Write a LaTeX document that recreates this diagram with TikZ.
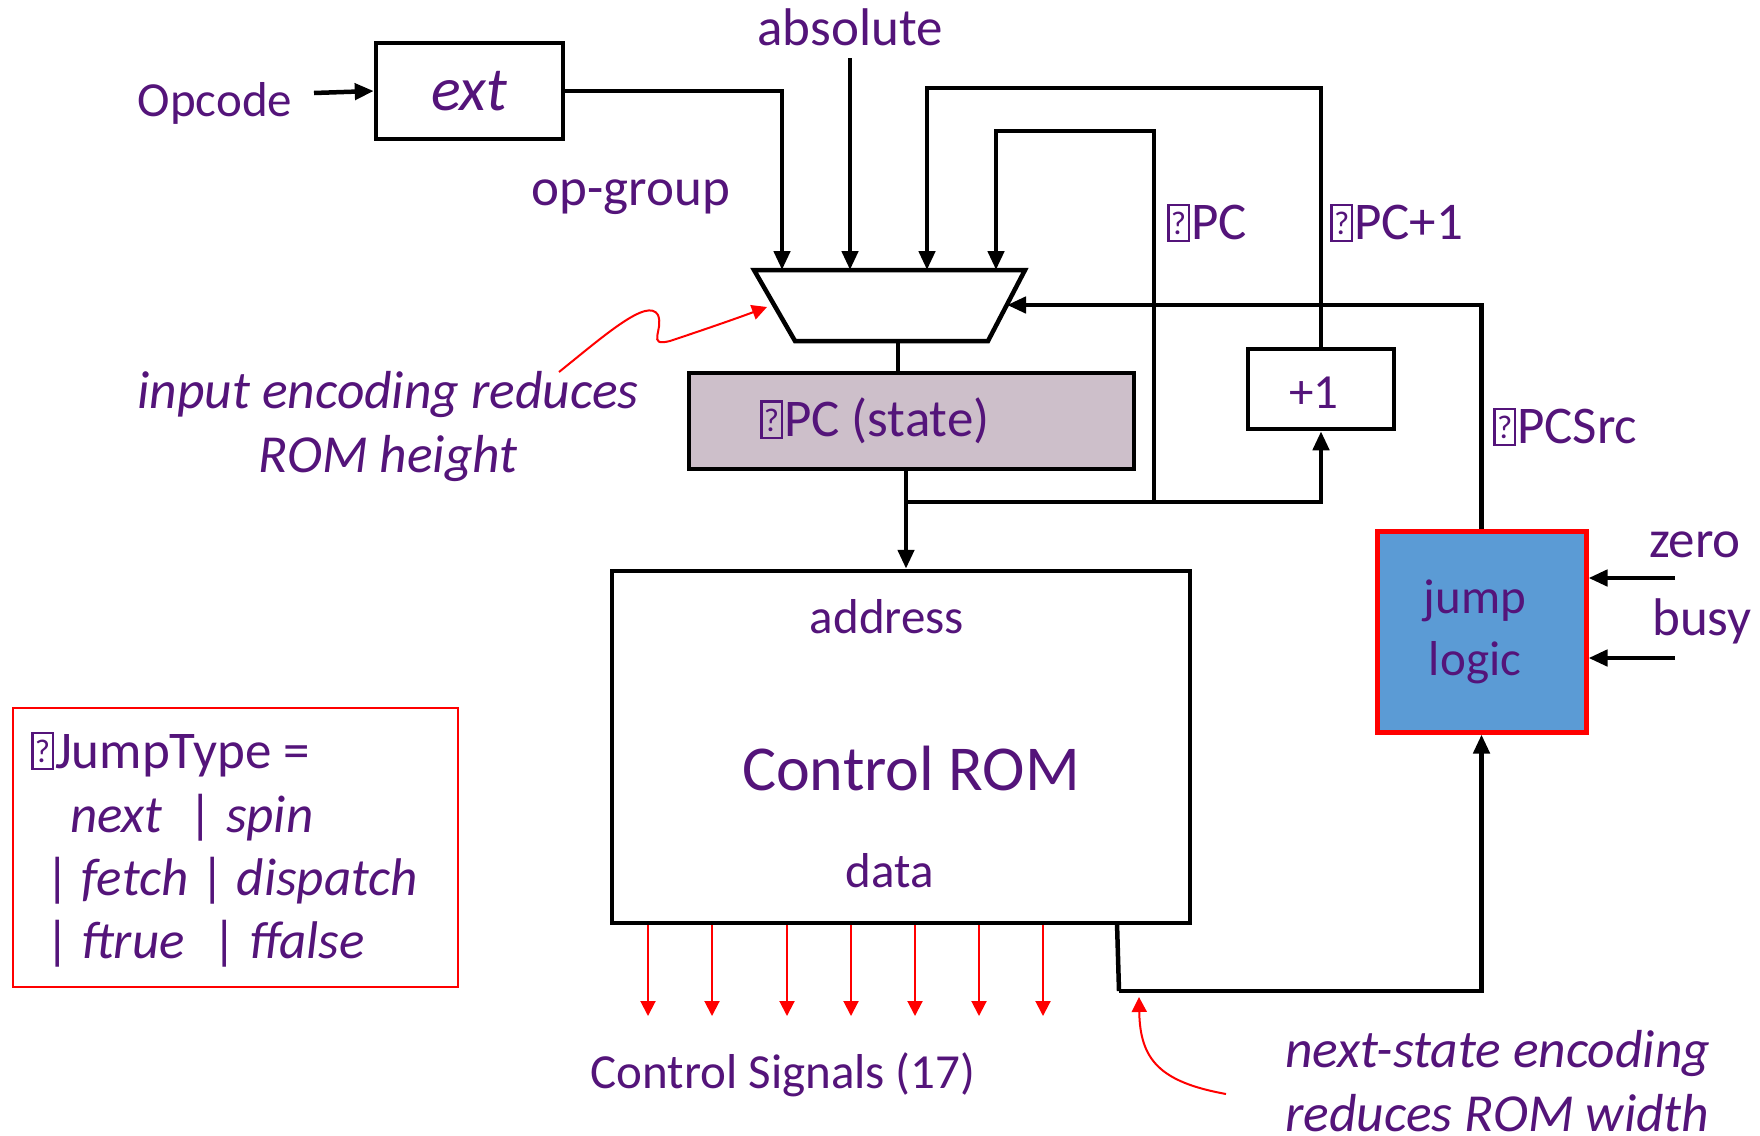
\documentclass[tikz,border=0pt]{standalone}
\usepackage{fontspec}
\setmainfont{Carlito}
\usepackage{graphicx}
\usetikzlibrary{arrows.meta}
\definecolor{txt}{RGB}{84,20,122}
\definecolor{mauve}{RGB}{205,191,202}
\definecolor{jblue}{RGB}{91,155,213}
\newcommand\tofu{{\setlength{\fboxsep}{0pt}\setlength{\fboxrule}{0.045em}\fbox{\makebox[0.34em]{\rule{0pt}{0.64em}\raisebox{0.1em}{\scalebox{0.62}{?}}}}}\kern0.02em}
\tikzset{
  lbl/.style={font=\fontsize{49}{62}\selectfont, text=txt, inner sep=0pt},
  big/.style={font=\fontsize{53}{62}\selectfont, text=txt, inner sep=0pt},
  note/.style={font=\fontsize{53.5}{64}\selectfont\itshape, text=txt, inner sep=0pt},
  blk/.style={draw=black, line width=4.5pt},
  arr/.style={line width=4.5pt, -{Triangle[length=19pt,width=16pt]}},
  wire/.style={line width=4.5pt},
  rarr/.style={draw=red, line width=2pt, -{Triangle[length=15pt,width=15pt]}},
}
\begin{document}
\begin{tikzpicture}[x=1pt,y=-1pt]
\fill[white] (0,0) rectangle (1760,1135);
\useasboundingbox (0,0) rectangle (1760,1135);

% ext block and opcode
\node[blk, minimum width=187pt, minimum height=96pt, inner sep=0pt, text=txt, font=\fontsize{62}{70}\selectfont\itshape] (ext) at (469.5,91) {ext};
\node[lbl] (opcode) at (215,103) {Opcode};
\coordinate (opA) at (314,93);
\draw[arr] (opA) -- (ext.west);
\node[big] (opgroup) at (631,197) {op-group};

% mux
\draw[blk, line join=miter] (754,270) -- (1025,270) -- (988,341) -- (795,341) -- cycle;
\coordinate (in1) at (782,270);
\coordinate (in2) at (850,270);
\coordinate (in3) at (927,270);
\coordinate (in4) at (996,270);
\coordinate (muxR) at (1007,305);
\coordinate (muxB) at (898,343);

\node[big] (absolute) at (850,27) {absolute};
\coordinate (absA) at (850,58);
\draw[arr] (absA) -- (in2);
\draw[arr] (ext.east) -| (in1);

% uPC state
\node[blk, fill=mauve, minimum width=445pt, minimum height=96pt] (pc) at (911.5,421) {};
\node[big, anchor=west] (pctxt) at (760,421) {\tofu PC (state)};
\draw[wire] (muxB) -- (pc.north -| muxB);

% +1
\node[blk, minimum width=146pt, minimum height=80pt] (plus) at (1321,389) {};
\node[lbl] (plustxt) at (1314,393) {+1};

% Control ROM
\node[blk, minimum width=578pt, minimum height=352pt] (rom) at (901,747) {};
\node[lbl] (addr) at (887,617) {address};
\node[lbl, font=\fontsize{64}{70}\selectfont] (romtxt) at (911,769) {Control ROM};
\node[lbl] (data) at (890,871) {data};

% jump logic
\node[draw=red, line width=5pt, fill=jblue, minimum width=209pt, minimum height=201pt] (jump) at (1481.5,631.5) {};
\node[lbl, align=center] (jumptxt) at (1475,632) {jump\\logic};

% wiring
\coordinate (jA) at (906,502);
\coordinate (jB) at (1154,502);
\coordinate (loopA) at (927,88);
\coordinate (loopB) at (996,131);
\draw[arr] (pc.south -| jA) -- (rom.north -| jA);
\draw[arr] (jA) -| (plus.south);
\draw[arr] (jB) |- (loopB) -- (in4);
\draw[arr] (plus.north) |- (loopA) -- (in3);
\draw[arr] (jump.north) |- (muxR);

\node[big, anchor=west] (lpc) at (1167,223) {\tofu PC};
\node[big, anchor=west] (lpc1) at (1330,223) {\tofu PC+1};
\node[big, anchor=west] (lsrc) at (1493,427) {\tofu PCSrc};

% zero / busy
\coordinate (zA) at (1675,578);
\coordinate (bA) at (1675,658);
\draw[arr] (zA) -- (zA -| jump.east);
\draw[arr] (bA) -- (bA -| jump.east);
\node[big] (zero) at (1695,545) {zero};
\node[big] (busy) at (1702,621) {busy};

% next state path
\coordinate (nsA) at (1117,923);
\coordinate (nsB) at (1119,991);
\draw[wire] (nsA) -- (nsB);
\draw[arr] (nsB) -| (jump.south);

% control signals
\foreach \x in {648,712,787,851,915,979,1043}
  \draw[rarr] (\x,925) -- (\x,1016);
\node[lbl] (csig) at (783,1075) {Control Signals (17)};

% notes
\node[note, align=center] (inenc) at (388,427) {input encoding reduces\\ROM height};
\coordinate (ieA) at (559,372);
\coordinate (ieB) at (767,307);
\draw[rarr] (ieA) .. controls (605,335) and (648,297) .. (658,315)
  .. controls (664,330) and (646,347) .. (670,341)
  .. controls (700,331) and (735,319) .. (ieB);

\node[note, align=left, anchor=west] (nsenc) at (1285,1081) {next-state encoding\\reduces ROM width};
\coordinate (nsC) at (1226,1094);
\coordinate (nsD) at (1139,997);
\draw[rarr] (nsC) .. controls (1160,1082) and (1140,1060) .. (nsD);

% jump type box
\node[draw=red, line width=2.5pt, minimum width=445pt, minimum height=279pt] (jt) at (235.5,847.5) {};
\node[big, anchor=base west] (jt1) at (31,768) {\tofu JumpType =};
\node[big, anchor=base west] (jt2) at (70,832) {\textit{next}\hspace{26pt}|\hspace{13pt}\textit{spin}};
\node[big, anchor=base west] (jt3) at (45,895) {| \textit{fetch} | \textit{dispatch}};
\node[big, anchor=base west] (jt4) at (45,958) {| \textit{ftrue}\hspace{28pt}| \textit{ffalse}};
\end{tikzpicture}
\end{document}
